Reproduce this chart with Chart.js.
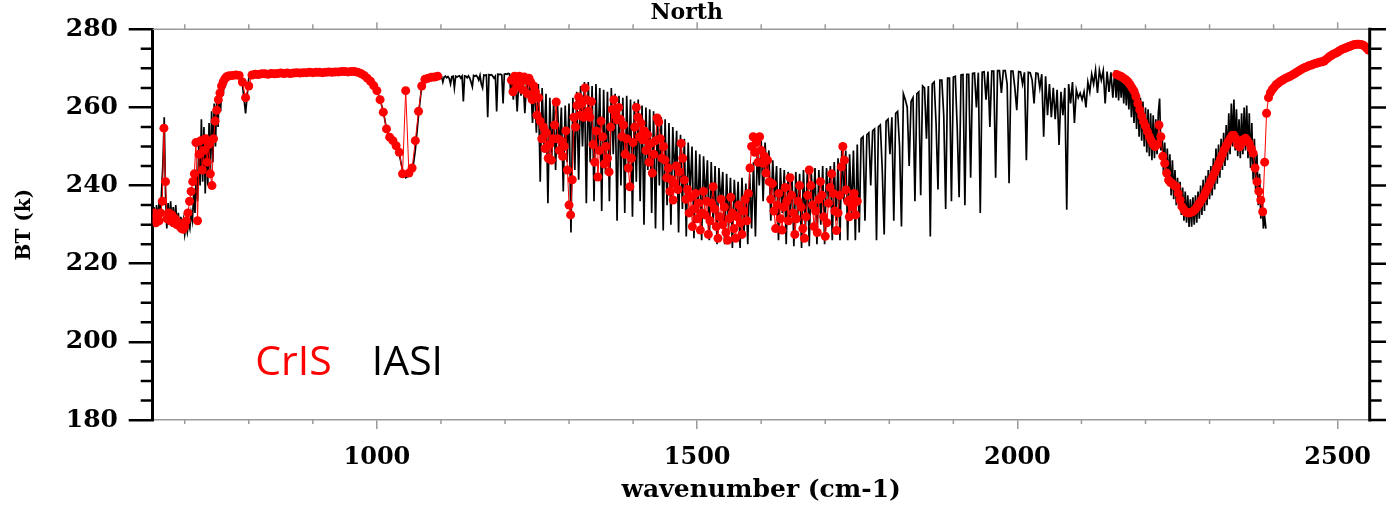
<!DOCTYPE html>
<html>
<head>
<meta charset="utf-8">
<title>North</title>
<script src="https://cdn.jsdelivr.net/npm/chart.js@4.4.1/dist/chart.umd.min.js"></script>
<style>
  html, body { margin: 0; padding: 0; background: #fff; }
  #wrap { width: 1386px; height: 505px; }
</style>
</head>
<body>
<div id="wrap"><canvas id="spectrum" width="1386" height="505"></canvas></div>
<script>
// axis ticks
const xTicks = [1000, 1500, 2000, 2500];
const xMinorTicks = [700, 800, 900, 1100, 1200, 1300, 1400, 1600, 1700, 1800, 1900, 2100, 2200, 2300, 2400];
const yTicks = [180, 200, 220, 240, 260, 280];
const yMinorTicks = [185, 190, 195, 205, 210, 215, 225, 230, 235, 245, 250, 255, 265, 270, 275];

// IASI brightness temperature (K), each block sits on its own regular wavenumber grid
// 650..770, step 2
const iasiBt650 = [
  231, 234.5, 229.5, 235, 230, 236, 231, 239, 246, 257.5,
  238, 229, 235.5, 230, 236, 229.5, 234.5, 230, 235, 229,
  233, 228.5, 232, 228, 231, 227.5, 230, 228, 230.5, 229,
  233, 231, 238, 233, 244, 236, 252, 240, 257, 241,
  255, 238, 253, 240, 256, 243, 259, 246, 261, 250,
  263, 255, 265, 259, 266.5, 263, 267.5, 266, 268, 267.5,
  268.3
];
// 775..1095, step 5
const iasiBt775 = [
  268.5, 268.5, 268.4, 266, 258.5, 267.5, 268.6, 268.7, 268.6, 268.7,
  268.8, 268.7, 268.8, 268.8, 268.7, 268.9, 268.8, 268.9, 268.8, 268.9,
  269, 268.9, 269, 269, 269.1, 269, 269.1, 269.1, 269, 269.1,
  269.2, 269.1, 269.2, 269.2, 269.3, 269.3, 269.2, 269.3, 269.3, 269.1,
  268.8, 268.3, 267.8, 267, 266, 264.5, 262, 259, 254.5, 252.5,
  251.5, 250.5, 248, 244, 242, 242.5, 243, 249, 258, 265.5,
  267.2, 267.5, 267.8, 267.8, 268
];
// 1097..1209, step 2
const iasiBt1097 = [
  268, 267.8, 267.9, 266.5, 267.8, 268, 267.6, 267.9, 267.4, 266,
  267.9, 268, 265, 268, 267.8, 268, 268.1, 267.5, 268, 261.5,
  268.1, 268, 267.6, 268.1, 267.5, 266.5, 265.3, 268.2, 268, 268.2,
  267.8, 267, 268.2, 266, 265, 268.3, 268.2, 268.3, 257.5, 268.4,
  268.3, 268.4, 268, 267.5, 268, 259, 268.5, 268.4, 268.5, 268.3,
  261, 268.5, 268.6, 268.5, 268.7, 268.6, 263.5
];
// 1210..1750, step 3
const iasiBt1210 = [
  268.5, 262, 268.3, 259, 268, 263, 267.8, 258.5, 267.5, 262,
  267, 256, 266.5, 253.5, 266, 241, 265, 250, 263.5, 235.5,
  262.5, 247, 261.5, 244, 260.5, 249, 260, 238.5, 260.5, 246,
  261, 228, 262.5, 244, 264, 241.5, 265.5, 250, 266.5, 235.5,
  266.5, 246, 265.5, 236, 266, 249, 265, 233.5, 264.5, 243,
  264, 236, 265, 248, 263.5, 231, 263, 240, 262.5, 233,
  263, 245, 262, 232, 261.5, 241, 262, 236, 260.5, 230,
  260, 244, 259.5, 233, 259, 229, 258, 240, 257.5, 228.5,
  257, 235, 256, 230, 255, 242, 254, 228, 253, 234,
  252, 227, 251, 238, 250, 226.5, 249, 232, 248, 226,
  247.5, 236, 246.5, 226, 246, 230, 245, 225, 244.5, 235,
  243.5, 225, 243, 229, 242, 224, 241.5, 231, 241, 224,
  242, 227, 240.5, 225, 243, 229, 246, 227, 249.5, 240,
  251.5, 236, 251, 243, 249, 231, 246.5, 236, 245, 226,
  244.5, 233, 244, 225, 243.5, 230, 243, 224.5, 243.5, 232,
  243, 224, 244, 229, 243.5, 224.5, 244, 234, 244.5, 225,
  244, 230, 245, 225, 244.5, 236, 245, 226, 246, 231,
  247, 226, 251, 236, 249, 226, 248, 233, 249, 226,
  250.5
];
// 1753..2149, step 3
const iasiBt1753 = [
  228, 252, 252.5, 231, 253, 253.5, 240, 254, 254.5, 226,
  255, 255.5, 244, 227.5, 256.5, 257, 248, 257.5, 231, 258.5,
  259, 250, 229.5, 263.5, 262, 260, 245, 261.5, 262.5, 236,
  263.5, 264, 237.5, 265.5, 265, 252, 265.5, 227, 266, 266.5,
  256, 239, 267, 267, 258, 234, 267.5, 267.5, 236, 267.8,
  268, 255, 237, 268.3, 268.4, 235, 268.5, 268.5, 242, 268.7,
  268.8, 260, 268.9, 233, 269, 269.1, 262, 269.2, 255, 269.3,
  269.3, 242, 269.4, 269.4, 263.7, 269.4, 269.4, 266, 240.6, 269.3,
  269.3, 265, 259.3, 269.2, 269.1, 266, 269, 246.5, 269, 268.9,
  267, 261, 268.8, 268.7, 265, 268.5, 252.5, 268, 258, 266,
  257.5, 265, 257, 264.5, 250.4, 264, 258, 265, 233.8, 266,
  261, 266.5, 256, 264.5, 262.5, 263.7, 262, 264, 260, 266.5,
  264, 268.5, 266, 269.6, 263.7, 269.5, 267, 269.4, 261, 269.2,
  264, 269, 262.5
];
// 2152..2388, step 2
const iasiBt2152 = [
  269.5, 262.5, 269.2, 261.8, 269, 262.5, 268.8, 261, 268.3, 260.5,
  267.8, 259.5, 267, 257.5, 266, 256, 265, 254.5, 264, 252.5,
  262.5, 251.5, 261.5, 250, 260, 248.5, 259.5, 247.5, 258.5, 246.5,
  258, 247, 257, 248, 258.5, 262.3, 249, 253, 243.5, 251,
  242, 249.5, 240, 248, 237.5, 246.5, 236.5, 244, 235, 242,
  234, 241, 232.5, 239.5, 231, 238.5, 230.5, 237.5, 229.4, 236.5,
  229.5, 237, 230, 237.5, 230.5, 238.5, 231.5, 240, 232.5, 241.5,
  233.5, 242.5, 235, 244, 236.5, 245, 237.5, 247, 239, 249.5,
  240.5, 250.5, 242, 252, 244, 253.5, 245, 255.5, 246.5, 258.5,
  248, 261, 250, 262, 249, 259.5, 247.5, 257, 247, 258.5,
  248, 260, 249, 260.5, 247, 258.5, 244.5, 256, 241.5, 252,
  238.5, 248, 235, 243, 231.5, 237, 229, 232, 229
];

// CrIS brightness temperature (K)
// 650..770, step 2.5
const crisBt650 = [
  231.5, 233, 230.5, 232.5, 231, 233, 236, 254.7, 241, 231.5,
  233, 231, 232.5, 230.5, 231.5, 230, 230.5, 229.5, 229, 228.8,
  229.5, 231, 233, 236, 238.5, 241, 243, 251, 231, 248,
  251.5, 244, 249, 252, 246, 250.5, 243, 240, 252, 256.5,
  259.3, 262, 263.7, 265.5, 266.5, 267.3, 267.8, 268, 268.1
];
// 775..1095, step 5
const crisBt775 = [
  268.2, 268.3, 268.2, 266.5, 262.5, 265.5, 268.3, 268.5, 268.4, 268.6,
  268.6, 268.5, 268.7, 268.6, 268.7, 268.8, 268.7, 268.8, 268.7, 268.8,
  268.9, 268.8, 268.9, 268.9, 269, 268.9, 269, 269, 268.9, 269,
  269.1, 269, 269.1, 269.1, 269.2, 269.2, 269.1, 269.2, 269.2, 269,
  268.7, 268.2, 267.5, 266.7, 265.6, 264.3, 262, 258.8, 254.5, 252.4,
  251.5, 250.2, 248.5, 243, 264.3, 243.2, 244.5, 251.5, 259, 265.5,
  267.2, 267.5, 267.7, 267.8, 268
];
// 1210..1750, step 2.5
const crisBt1210 = [
  267, 264, 268, 267.5, 265.5, 268, 266.5, 264.5, 267.8, 267, 263.5, 267.5,
  266.5, 262, 265.5, 264, 258, 262.5, 256.5, 252, 255, 249.5, 253.5, 247,
  250.5, 246.5, 252, 255.5, 261.4, 252, 249, 251.5, 247.5, 250, 254, 244,
  235, 232.5, 241.5, 257.5, 255, 260.5, 262.7, 258, 261, 257.5, 265, 262,
  259, 257.5, 261.5, 250.5, 246, 254, 242.2, 249, 256.5, 252.5, 245.5, 250,
  247, 243.5, 255, 259.5, 262, 258, 256.8, 260, 257, 252.5, 255.5, 248,
  252, 244.5, 239.7, 247, 251, 255, 260, 257.5, 252.5, 256, 251.7, 254,
  249, 253, 246, 250.8, 243.2, 248, 251.5, 257.3, 256.3, 252, 247, 250,
  246.5, 242, 244.5, 238.5, 241.5, 236.3, 240.5, 245, 239, 243.5, 250.8, 247,
  241.4, 236.5, 239, 233, 237, 229.5, 234, 238, 231.5, 235.5, 228.6, 233,
  238.5, 232.5, 236, 227.5, 231, 235.5, 239.7, 234, 229.5, 226.5, 232, 236.5,
  230, 234.5, 228, 226, 231.5, 237, 233, 229, 226.5, 232, 235, 230.5,
  227.5, 233.5, 236.5, 231, 238, 244.5, 250, 252.5, 248.5, 251, 246, 252.5,
  249, 245.7, 247.5, 243.2, 246.5, 241, 236.5, 240.5, 233.5, 229, 235, 238,
  231.5, 228.6, 234.5, 239.5, 236, 231, 242, 237.5, 233, 227.5, 231.5, 236,
  240, 234.5, 229, 226.5, 232, 237.5, 244, 240, 235, 229.5, 233.5, 228,
  236.5, 241, 237.5, 232, 227, 230.5, 235.5, 239.5, 243, 238, 233.5, 228.5,
  233, 237.5, 244.8, 250, 246.5, 238.9, 236, 232, 236.5, 234.5, 238, 232.5,
  236
];
// 2155..2548, step 3
const crisBt2155 = [
  268.4, 268.2, 268, 267.7, 267.3, 267, 266.5, 265.8, 265, 264.2,
  262.8, 261, 259.4, 257.8, 256.3, 255.2, 253.8, 252.5, 251.5, 250.5,
  250, 250.5, 255.5, 252.5, 247.5, 245.7, 243.2, 241.4, 240.8, 240.5,
  240, 239.7, 238, 236.3, 234.6, 233.8, 233.2, 233, 233, 233.2,
  233.5, 234, 234.7, 235.4, 236.2, 237, 238, 239, 240, 241.2,
  242.2, 243.3, 244.5, 245.6, 246.8, 248, 249.2, 250.2, 251.2, 252,
  252.8, 252.9, 252, 250.5, 249.9, 250.8, 251.8, 252.1, 251.5, 250.8,
  249.5, 248.3, 244.5, 241, 238.5, 236.3, 233.3, 246, 258.5, 262.5,
  263.8, 264.6, 265.2, 265.8, 266.2, 266.6, 266.9, 267.2, 267.5, 267.7,
  267.9, 268.2, 268.5, 268.8, 269.1, 269.4, 269.7, 270, 270.2, 270.4,
  270.7, 270.8, 271, 271.2, 271.3, 271.5, 271.6, 271.7, 271.9, 272.3,
  272.7, 273.1, 273.4, 273.7, 273.9, 274.2, 274.5, 274.8, 275, 275.2,
  275.4, 275.6, 275.8, 276, 276.1, 276.2, 276.2, 276.1, 276, 275.7,
  275.2, 274.7
];

const SERIF = '"DejaVu Serif", "Liberation Serif", serif';

// spread a block of values over its wavenumber grid
function onGrid(start, step, values) {
  return values.map((bt, i) => ({ x: start + i * step, y: bt }));
}

const iasiPoints = [
  ...onGrid(650, 2, iasiBt650),
  ...onGrid(775, 5, iasiBt775),
  ...onGrid(1097, 2, iasiBt1097),
  ...onGrid(1210, 3, iasiBt1210),
  ...onGrid(1753, 3, iasiBt1753),
  ...onGrid(2152, 2, iasiBt2152),
];

// CrIS has no channels between its three bands, so break the line there
const crisPoints = [
  ...onGrid(650, 2.5, crisBt650),
  ...onGrid(775, 5, crisBt775),
  { x: 1150, y: null },
  ...onGrid(1210, 2.5, crisBt1210),
  { x: 1950, y: null },
  ...onGrid(2155, 3, crisBt2155),
];

// top/right frame and the minor ticks the scales don't draw
const frameTicks = {
  id: "frameTicks",
  afterDraw(chart) {
    const { ctx, chartArea: a, scales } = chart;
    const x = scales.x;
    const y = scales.y;
    ctx.save();

    ctx.strokeStyle = "#9a9a9a";
    ctx.lineWidth = 1.5;
    ctx.beginPath();
    ctx.moveTo(a.left, a.top);
    ctx.lineTo(a.right, a.top);
    xTicks.forEach((v) => {
      const px = x.getPixelForValue(v);
      ctx.moveTo(px, a.top);
      ctx.lineTo(px, a.top - 7);
    });
    xMinorTicks.forEach((v) => {
      const px = x.getPixelForValue(v);
      ctx.moveTo(px, a.top);
      ctx.lineTo(px, a.top - 5);
      ctx.moveTo(px, a.bottom);
      ctx.lineTo(px, a.bottom + 4);
    });
    ctx.stroke();

    ctx.strokeStyle = "#000";
    ctx.lineWidth = 2.5;
    ctx.beginPath();
    yTicks.forEach((v) => {
      const py = y.getPixelForValue(v);
      ctx.moveTo(a.right, py);
      ctx.lineTo(a.right + 24, py);
    });
    yMinorTicks.forEach((v) => {
      const py = y.getPixelForValue(v);
      ctx.moveTo(a.left - 12, py);
      ctx.lineTo(a.left, py);
      ctx.moveTo(a.right, py);
      ctx.lineTo(a.right + 12, py);
    });
    ctx.stroke();

    ctx.lineWidth = 3;
    ctx.beginPath();
    ctx.moveTo(a.right, a.top - 1.5);
    ctx.lineTo(a.right, a.bottom + 1.5);
    ctx.stroke();
    ctx.restore();
  },
};

// instrument names written inside the plot
const bandLabels = {
  id: "bandLabels",
  afterDatasetsDraw(chart) {
    const { ctx, scales } = chart;
    const baseline = scales.y.getPixelForValue(191.5);
    ctx.save();
    ctx.font = '41px "Open Sans", sans-serif';
    ctx.textBaseline = "alphabetic";
    ctx.fillStyle = "#ff0000";
    ctx.fillText("CrIS", scales.x.getPixelForValue(810), baseline);
    ctx.fillStyle = "#000";
    ctx.fillText("IASI", scales.x.getPixelForValue(992), baseline);
    ctx.restore();
  },
};

new Chart(document.getElementById("spectrum"), {
  type: "line",
  data: {
    datasets: [
      {
        label: "CrIS",
        data: crisPoints,
        order: 0,
        borderColor: "#ff0000",
        borderWidth: 1,
        pointRadius: 4.5,
        pointBackgroundColor: "#ff0000",
        pointBorderWidth: 0,
        spanGaps: false,
        tension: 0,
      },
      {
        label: "IASI",
        data: iasiPoints,
        order: 1,
        borderColor: "#000",
        borderWidth: 1.7,
        pointRadius: 0,
        tension: 0,
      },
    ],
  },
  options: {
    responsive: false,
    animation: false,
    events: [],
    layout: { padding: { left: 0, right: 12.7, top: 0, bottom: 0 } },
    plugins: {
      legend: { display: false },
      tooltip: { enabled: false },
      title: {
        display: true,
        text: "North",
        color: "#000",
        font: { family: SERIF, size: 22, weight: "bold" },
        padding: { top: 0, bottom: 2.9 },
      },
    },
    scales: {
      x: {
        type: "linear",
        min: 650,
        max: 2550,
        afterBuildTicks: (s) => {
          s.ticks = xTicks.map((v) => ({ value: v }));
        },
        afterFit: (s) => {
          s.height = 85;
        },
        border: { color: "#9a9a9a", width: 1.5 },
        grid: {
          drawOnChartArea: false,
          tickLength: 9,
          color: "#9a9a9a",
          lineWidth: 1.5,
        },
        ticks: {
          color: "#000",
          font: { family: SERIF, size: 24, weight: "bold" },
          padding: 14.6,
          maxRotation: 0,
          autoSkip: false,
          callback: (v) => String(v),
        },
        title: {
          display: true,
          text: "wavenumber (cm-1)",
          color: "#000",
          font: { family: SERIF, size: 25, weight: "bold" },
          padding: { top: 0, bottom: 0 },
        },
      },
      y: {
        type: "linear",
        min: 180,
        max: 280,
        afterBuildTicks: (s) => {
          s.ticks = yTicks.map((v) => ({ value: v }));
        },
        afterFit: (s) => {
          s.width = 152.7;
        },
        border: { color: "#000", width: 3 },
        grid: {
          drawOnChartArea: false,
          tickLength: 24,
          color: "#000",
          lineWidth: 2.5,
        },
        ticks: {
          color: "#000",
          font: { family: SERIF, size: 25, weight: "bold" },
          padding: 10.7,
          callback: (v) => String(v),
        },
        title: {
          display: true,
          text: "BT (k)",
          color: "#000",
          font: { family: SERIF, size: 20, weight: "bold" },
          padding: { top: 13, bottom: 0 },
        },
      },
    },
  },
  plugins: [frameTicks, bandLabels],
});
</script>
</body>
</html>
